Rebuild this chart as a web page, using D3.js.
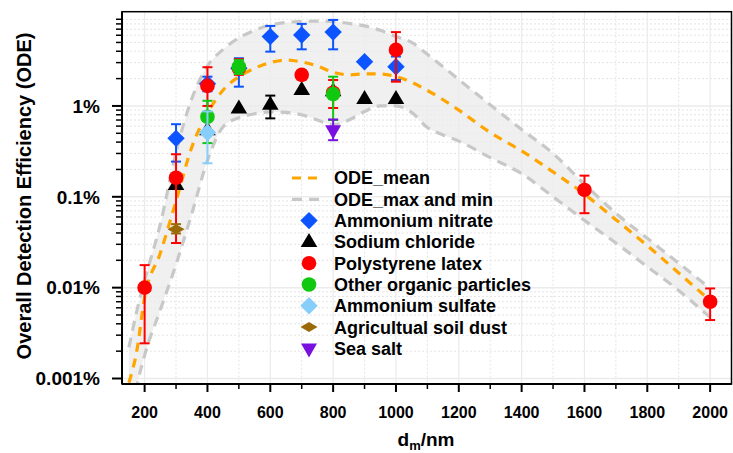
<!DOCTYPE html>
<html lang="en">
<head>
<meta charset="utf-8">
<title>ODE</title>
<script src="https://d3js.org/d3.v7.min.js"></script>
<style>
  body { margin: 0; background: #fff; }
  svg text { font-family: "Liberation Sans", Arial, sans-serif; font-weight: bold; fill: #000; }
</style>
</head>
<body>
<script>
// d_m grid (nm) for the ODE band, values in %
var curveX  = [150, 175, 200, 250, 300, 350, 400, 450, 500, 550, 600, 650, 700, 750, 800, 850, 900, 950, 1000, 1050, 1100, 1150, 1200, 1300, 1400, 1500, 1600, 1700, 1800, 1900, 2000];
var odeMean = [0.0009, 0.002, 0.0078, 0.024, 0.09, 0.35, 0.83, 1.5, 2.1, 2.6, 3.0, 3.2, 3.05, 2.75, 2.35, 2.2, 2.25, 2.25, 2.1, 1.82, 1.48, 1.17, 0.9, 0.51, 0.32, 0.188, 0.107, 0.056, 0.029, 0.0145, 0.0072];
var odeMax  = [0.0022, 0.0055, 0.012, 0.05, 0.31, 1.2, 2.75, 4.2, 5.6, 6.8, 7.8, 8.3, 8.5, 8.6, 8.5, 8.1, 7.6, 6.8, 5.8, 5.0, 3.7, 2.7, 1.95, 1.03, 0.55, 0.3, 0.138, 0.066, 0.035, 0.0186, 0.0098];
var odeMin  = [0.0002, 0.0008, 0.0018, 0.0057, 0.018, 0.065, 0.25, 0.59, 0.74, 0.82, 0.86, 0.85, 0.8, 0.7, 0.62, 0.7, 0.87, 1.0, 1.0, 0.85, 0.58, 0.48, 0.41, 0.27, 0.18, 0.1, 0.055, 0.031, 0.017, 0.0093, 0.0047];

// measured points: [d_m, ODE %, lower, upper]
var nitrate = [[300, 0.44, 0.244, 0.63], [400, 1.75, 1.45, 2.1], [500, 2.6, 1.63, 3.35], [600, 5.8, 3.96, 7.6], [700, 6.05, 4.2, 8.0], [800, 6.5, 4.2, 8.85], [900, 3.07, null, null], [1000, 2.7, 1.93, 3.5]];
var sodium  = [[300, 0.135, null, null], [400, 0.54, null, null], [500, 0.94, null, null], [600, 1.03, 0.73, 1.3], [700, 1.5, null, null], [800, 1.45, null, null], [900, 1.19, null, null], [1000, 1.19, null, null]];
var latex   = [[200, 0.01, 0.00244, 0.0177], [300, 0.162, 0.031, 0.294], [400, 1.66, 1.0, 2.67], [500, 2.6, 2.2, 3.27], [700, 2.2, 1.95, 2.45], [800, 1.4, 0.95, 1.93], [1000, 4.14, 1.85, 6.5], [1600, 0.119, 0.066, 0.171], [2000, 0.007, 0.0044, 0.0098]];
var organic = [[400, 0.76, 0.39, 1.14], [500, 2.7, 2.25, 3.2], [800, 1.35, 0.7, 2.1]];
var sulfate = [[400, 0.51, 0.234, 0.87]];
var soil    = [[300, 0.044, 0.0395, 0.05]];
var seaSalt = [[800, 0.54, 0.42, 0.71]];

var seriesNames = ["Ammonium nitrate", "Sodium chloride", "Polystyrene latex", "Other organic particles", "Ammonium sulfate", "Agricultual soil dust", "Sea salt"];
var xTicks = [200, 400, 600, 800, 1000, 1200, 1400, 1600, 1800, 2000];
var yTicks = [0.001, 0.01, 0.1, 1];
var yTickLabels = ["0.001%", "0.01%", "0.1%", "1%"];

var W = 733, H = 453;
var pL = 122, pR = 731.5, pT = 11.7, pB = 384;

var svg = d3.select("body").append("svg").attr("width", W).attr("height", H);

var x = d3.scaleLinear().domain([128, 2068]).range([pL, pR]);
var y = d3.scaleLog().domain([0.00087, 10.9]).range([pB, pT]);

svg.append("defs").append("clipPath").attr("id", "clip")
  .append("rect").attr("x", pL).attr("y", pT).attr("width", pR - pL).attr("height", pB - pT);

// grid
var minorX = d3.range(300, 2000, 200);
var minorY = [];
[0.001, 0.01, 0.1, 1].forEach(function(d) { for (var k = 2; k <= 9; k++) minorY.push(d * k); });

var grid = svg.append("g");
grid.selectAll(null).data(minorX).enter().append("line")
  .attr("x1", d => x(d)).attr("x2", d => x(d)).attr("y1", pT).attr("y2", pB)
  .attr("stroke", "#e4e4e4").attr("stroke-width", 1).attr("stroke-dasharray", "2,2");
grid.selectAll(null).data(minorY).enter().append("line")
  .attr("x1", pL).attr("x2", pR).attr("y1", d => y(d)).attr("y2", d => y(d))
  .attr("stroke", "#e4e4e4").attr("stroke-width", 1).attr("stroke-dasharray", "2,2");
grid.selectAll(null).data(xTicks).enter().append("line")
  .attr("x1", d => x(d)).attr("x2", d => x(d)).attr("y1", pT).attr("y2", pB)
  .attr("stroke", "#ebebeb").attr("stroke-width", 1.2);
grid.selectAll(null).data(yTicks).enter().append("line")
  .attr("x1", pL).attr("x2", pR).attr("y1", d => y(d)).attr("y2", d => y(d))
  .attr("stroke", "#ebebeb").attr("stroke-width", 1.5);

// band
var band = svg.append("g").attr("clip-path", "url(#clip)");
var idx = d3.range(curveX.length);
band.append("path")
  .attr("d", d3.area().x(i => x(curveX[i])).y0(i => y(odeMin[i])).y1(i => y(odeMax[i])).curve(d3.curveMonotoneX)(idx))
  .attr("fill", "#ebebeb").attr("opacity", 0.75);

var line = function(arr) {
  return d3.line().x(i => x(curveX[i])).y(i => y(arr[i])).curve(d3.curveMonotoneX)(idx);
};
[odeMax, odeMin].forEach(function(arr) {
  band.append("path").attr("d", line(arr)).attr("fill", "none")
    .attr("stroke", "#c8c8c8").attr("stroke-width", 3.2).attr("stroke-dasharray", "10,7");
});
band.append("path").attr("d", line(odeMean)).attr("fill", "none")
  .attr("stroke", "#ffa500").attr("stroke-width", 3.2).attr("stroke-dasharray", "9,7");

// point shapes
var shapes = {
  diamond: "M0,-8.7L8.7,0L0,8.7L-8.7,0Z",
  triUp: "M0,-9L8.3,5L-8.3,5Z",
  circle: d3.symbol(d3.symbolCircle, Math.PI * 7.3 * 7.3)(),
  flat: "M0,-5L8.5,0L0,5L-8.5,0Z",
  triDown: "M0,9L8,-5L-8,-5Z"
};
var series = [
  { data: nitrate, color: "#0b54ff", shape: shapes.diamond },
  { data: sodium,  color: "#000000", shape: shapes.triUp },
  { data: latex,   color: "#ff0000", shape: shapes.circle },
  { data: organic, color: "#10c810", shape: shapes.circle },
  { data: sulfate, color: "#87cefa", shape: shapes.diamond },
  { data: soil,    color: "#9a6a08", shape: shapes.flat },
  { data: seaSalt, color: "#7a10e0", shape: shapes.triDown }
];

var pts = svg.append("g");
series.forEach(function(s) {
  pts.selectAll(null).data(s.data).enter().append("path")
    .attr("d", s.shape).attr("fill", s.color)
    .attr("transform", d => "translate(" + x(d[0]) + "," + y(d[1]) + ")");
  var eb = s.data.filter(d => d[2] != null);
  var g = pts.append("g").attr("stroke", s.color).attr("stroke-width", 2);
  g.selectAll(null).data(eb).enter().append("line")
    .attr("x1", d => x(d[0])).attr("x2", d => x(d[0])).attr("y1", d => y(d[2])).attr("y2", d => y(d[3]));
  g.selectAll(null).data(eb).enter().append("line")
    .attr("x1", d => x(d[0]) - 5).attr("x2", d => x(d[0]) + 5).attr("y1", d => y(d[2])).attr("y2", d => y(d[2]));
  g.selectAll(null).data(eb).enter().append("line")
    .attr("x1", d => x(d[0]) - 5).attr("x2", d => x(d[0]) + 5).attr("y1", d => y(d[3])).attr("y2", d => y(d[3]));
});

// frame
svg.append("rect").attr("x", pL).attr("y", pT).attr("width", pR - pL).attr("height", pB - pT)
  .attr("fill", "none").attr("stroke", "#000").attr("stroke-width", 1.5);
svg.append("line").attr("x1", pL).attr("x2", pL).attr("y1", pT).attr("y2", pB).attr("stroke", "#000").attr("stroke-width", 2);
svg.append("line").attr("x1", pL).attr("x2", pR).attr("y1", pB).attr("y2", pB).attr("stroke", "#000").attr("stroke-width", 2);

// x axis
var xAxis = svg.append("g");
xAxis.selectAll(null).data(xTicks).enter().append("line")
  .attr("x1", d => x(d)).attr("x2", d => x(d)).attr("y1", pB).attr("y2", pB + 8)
  .attr("stroke", "#000").attr("stroke-width", 2);
xAxis.selectAll(null).data(minorX).enter().append("line")
  .attr("x1", d => x(d)).attr("x2", d => x(d)).attr("y1", pB).attr("y2", pB + 5)
  .attr("stroke", "#000").attr("stroke-width", 1.5);
xAxis.selectAll(null).data(xTicks).enter().append("text")
  .attr("x", d => x(d)).attr("y", 418).attr("text-anchor", "middle").style("font-size", "16px")
  .text(d => d);

// y axis
var yAxis = svg.append("g");
yAxis.selectAll(null).data(yTicks).enter().append("line")
  .attr("x1", pL - 10).attr("x2", pL).attr("y1", d => y(d)).attr("y2", d => y(d))
  .attr("stroke", "#000").attr("stroke-width", 2);
yAxis.selectAll(null).data(minorY).enter().append("line")
  .attr("x1", pL - 6).attr("x2", pL).attr("y1", d => y(d)).attr("y2", d => y(d))
  .attr("stroke", "#000").attr("stroke-width", 1.5);
yAxis.selectAll(null).data(yTicks).enter().append("text")
  .attr("x", 100).attr("y", d => y(d)).attr("dy", "0.36em").attr("text-anchor", "end").style("font-size", "19px")
  .text((d, i) => yTickLabels[i]);

// axis titles
svg.append("text").attr("transform", "translate(31,196) rotate(-90)").attr("text-anchor", "middle")
  .style("font-size", "20px").text("Overall Detection Efficiency (ODE)");
var xt = svg.append("text").attr("x", 426).attr("y", 446).attr("text-anchor", "middle").style("font-size", "19px");
xt.append("tspan").text("d");
xt.append("tspan").attr("dy", 4).style("font-size", "13px").text("m");
xt.append("tspan").attr("dy", -4).text("/nm");

// legend
var lg = svg.append("g");
var rowY = d3.range(9).map(i => 178 + i * 21.3);
lg.append("line").attr("x1", 292).attr("x2", 322).attr("y1", rowY[0]).attr("y2", rowY[0])
  .attr("stroke", "#ffa500").attr("stroke-width", 3.2).attr("stroke-dasharray", "9,7");
lg.append("line").attr("x1", 292).attr("x2", 322).attr("y1", rowY[1]).attr("y2", rowY[1])
  .attr("stroke", "#c8c8c8").attr("stroke-width", 3.2).attr("stroke-dasharray", "10,7");
series.forEach(function(s, i) {
  lg.append("path").attr("d", s.shape).attr("fill", s.color)
    .attr("transform", "translate(309," + rowY[i + 2] + ")");
});
var labels = ["ODE_mean", "ODE_max and min"].concat(seriesNames);
lg.selectAll(null).data(labels).enter().append("text")
  .attr("x", 334).attr("y", (d, i) => rowY[i]).attr("dy", "0.36em").style("font-size", "18px")
  .text(d => d);
</script>
</body>
</html>
